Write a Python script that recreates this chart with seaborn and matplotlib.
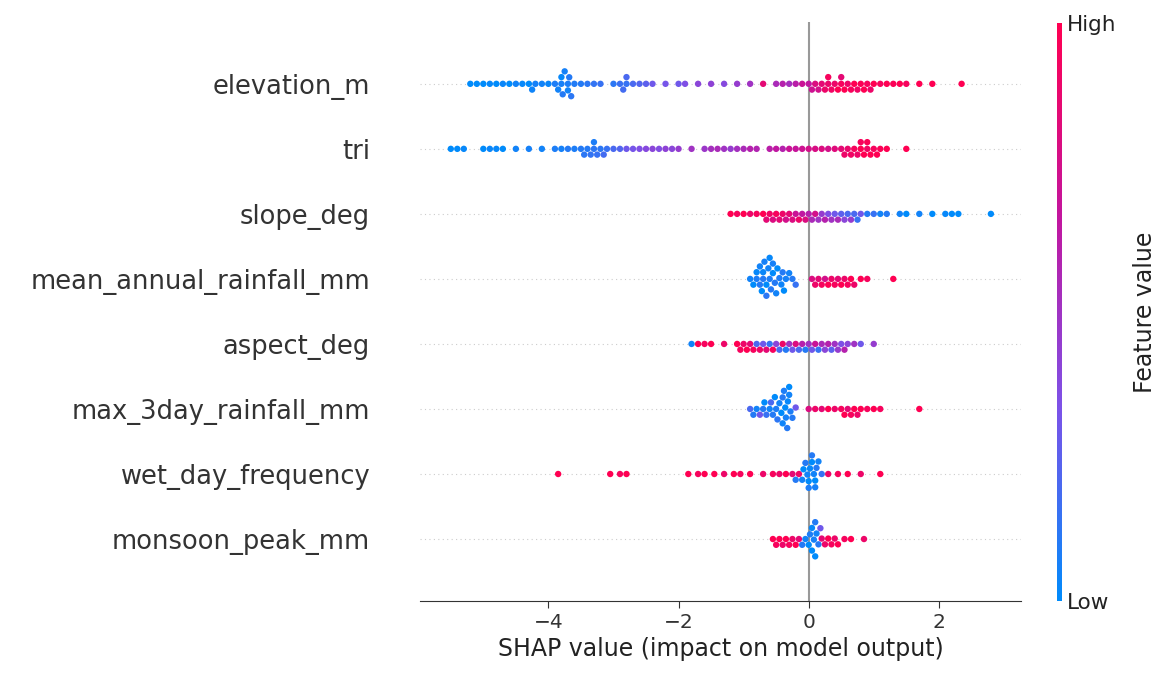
import matplotlib
matplotlib.use("Agg")
import matplotlib.pyplot as plt
from matplotlib.colors import LinearSegmentedColormap
from matplotlib.cm import ScalarMappable
import seaborn as sns
import pandas as pd

features = ["elevation_m", "tri", "slope_deg", "mean_annual_rainfall_mm",
            "aspect_deg", "max_3day_rainfall_mm", "wet_day_frequency", "monsoon_peak_mm"]

# SHAP values and feature values (0 = low, 1 = high)
elev_shap = [-5.2, -5.1, -5.0, -4.9, -4.8, -4.7, -4.6, -4.5, -4.4, -4.3, -4.25, -4.2, -4.1, -4.0, -3.9,
             -3.85, -3.8, -3.8, -3.78, -3.75, -3.7, -3.7, -3.68, -3.65, -3.6, -3.5, -3.4, -3.3, -3.2, -3.0,
             -2.9, -2.85, -2.8, -2.8, -2.7, -2.6, -2.5, -2.4, -2.2, -2.0, -1.9, -1.7, -1.5, -1.3, -1.1, -0.9,
             -0.7, -0.5, -0.4, -0.3, -0.2, -0.1, 0.0, 0.05, 0.1, 0.15, 0.2, 0.25, 0.3, 0.3, 0.35, 0.4, 0.45,
             0.5, 0.5, 0.55, 0.6, 0.65, 0.7, 0.75, 0.8, 0.85, 0.9, 0.95, 1.0, 1.1, 1.2, 1.3, 1.4, 1.5, 1.7,
             1.9, 2.35]
elev_val = [0.0, 0.0, 0.0, 0.02, 0.0, 0.03, 0.0, 0.05, 0.02, 0.0, 0.04, 0.06, 0.05, 0.03, 0.08,
            0.05, 0.07, 0.02, 0.1, 0.06, 0.08, 0.05, 0.1, 0.12, 0.09, 0.1, 0.12, 0.14, 0.15, 0.12,
            0.16, 0.18, 0.15, 0.2, 0.2, 0.22, 0.25, 0.3, 0.32, 0.3, 0.35, 0.4, 0.42, 0.38, 0.45, 0.5,
            0.85, 0.55, 0.6, 0.52, 0.62, 0.7, 0.65, 0.72, 0.8, 0.75, 0.85, 0.9, 0.88, 0.95, 0.92, 0.9, 1.0,
            0.95, 0.85, 1.0, 0.9, 0.95, 1.0, 0.92, 0.98, 1.0, 0.95, 0.9, 1.0, 0.95, 1.0, 0.98, 1.0, 0.95, 1.0,
            1.0, 1.0]

tri_shap = [-5.5, -5.4, -5.3, -5.0, -4.9, -4.8, -4.7, -4.5, -4.3, -4.1, -3.9, -3.8, -3.7, -3.6, -3.5,
            -3.45, -3.4, -3.35, -3.3, -3.3, -3.25, -3.2, -3.15, -3.1, -3.0, -2.9, -2.8, -2.7, -2.6, -2.5,
            -2.4, -2.3, -2.2, -2.1, -2.0, -1.8, -1.6, -1.5, -1.4, -1.3, -1.2, -1.1, -1.0, -0.9, -0.8, -0.6,
            -0.5, -0.4, -0.3, -0.2, -0.1, 0.0, 0.1, 0.2, 0.3, 0.4, 0.5, 0.55, 0.6, 0.65, 0.7, 0.75, 0.8,
            0.8, 0.85, 0.9, 0.9, 0.95, 1.0, 1.05, 1.1, 1.2, 1.5]
tri_val = [0.0, 0.0, 0.02, 0.0, 0.03, 0.02, 0.0, 0.05, 0.06, 0.05, 0.08, 0.06, 0.1, 0.08, 0.1,
           0.12, 0.1, 0.14, 0.12, 0.08, 0.15, 0.12, 0.18, 0.15, 0.2, 0.22, 0.3, 0.32, 0.35, 0.38,
           0.4, 0.36, 0.42, 0.4, 0.45, 0.5, 0.48, 0.52, 0.55, 0.5, 0.45, 0.52, 0.55, 0.6, 0.58, 0.62,
           0.65, 0.6, 0.7, 0.68, 0.72, 0.75, 0.78, 0.8, 0.75, 0.82, 0.85, 0.9, 0.88, 0.92, 0.95, 0.9, 1.0,
           0.95, 1.0, 0.92, 0.98, 1.0, 0.95, 1.0, 0.98, 1.0, 1.0]

slope_shap = [-1.2, -1.1, -1.0, -0.9, -0.8, -0.7, -0.65, -0.6, -0.55, -0.5, -0.45, -0.4, -0.35, -0.3,
              -0.25, -0.2, -0.15, -0.1, -0.05, 0.0, 0.05, 0.1, 0.15, 0.2, 0.25, 0.3, 0.35, 0.4, 0.45, 0.5,
              0.55, 0.6, 0.65, 0.7, 0.75, 0.8, 0.9, 1.0, 1.1, 1.2, 1.4, 1.5, 1.7, 1.9, 2.1, 2.2, 2.3, 2.8]
slope_val = [1.0, 0.95, 1.0, 0.9, 0.95, 1.0, 0.85, 0.92, 0.8, 0.95, 0.85, 0.9, 0.75, 0.85,
             0.8, 0.7, 0.9, 0.65, 0.8, 0.6, 0.55, 0.75, 0.5, 0.45, 0.6, 0.35, 0.5, 0.3, 0.55, 0.25,
             0.4, 0.2, 0.45, 0.2, 0.15, 0.3, 0.1, 0.15, 0.05, 0.1, 0.05, 0.0, 0.05, 0.0, 0.02, 0.0, 0.0, 0.0]

rain_shap = [-0.9, -0.85, -0.8, -0.8, -0.75, -0.75, -0.72, -0.7, -0.7, -0.68, -0.65, -0.65, -0.62, -0.6,
             -0.6, -0.58, -0.55, -0.55, -0.52, -0.5, -0.48, -0.45, -0.42, -0.4, -0.38, -0.35, -0.3, -0.25,
             -0.2, 0.05, 0.1, 0.15, 0.2, 0.25, 0.3, 0.35, 0.4, 0.45, 0.5, 0.55, 0.6, 0.65, 0.7, 0.8, 0.9, 1.3]
rain_val = [0.05, 0.0, 0.08, 0.02, 0.1, 0.05, 0.0, 0.1, 0.03, 0.06, 0.0, 0.12, 0.05, 0.08,
            0.02, 0.1, 0.0, 0.06, 0.1, 0.05, 0.0, 0.08, 0.04, 0.1, 0.0, 0.06, 0.05, 0.1,
            0.15, 0.8, 0.9, 0.85, 0.95, 0.75, 1.0, 0.9, 0.95, 0.85, 1.0, 0.9, 0.95, 1.0, 0.9, 1.0, 0.95, 1.0]

aspect_shap = [-1.8, -1.7, -1.6, -1.5, -1.3, -1.1, -1.05, -1.0, -0.95, -0.9, -0.85, -0.8, -0.75, -0.7,
               -0.65, -0.6, -0.55, -0.5, -0.45, -0.4, -0.35, -0.3, -0.25, -0.2, -0.15, -0.1, -0.05, 0.0,
               0.05, 0.1, 0.15, 0.2, 0.25, 0.3, 0.35, 0.4, 0.45, 0.5, 0.55, 0.6, 0.7, 0.8, 1.0]
aspect_val = [0.05, 1.0, 0.95, 1.0, 0.9, 1.0, 0.95, 0.9, 1.0, 0.85, 0.95, 0.2, 0.9, 0.3,
              0.85, 0.15, 0.95, 0.4, 0.2, 0.9, 0.1, 0.5, 0.3, 0.8, 0.2, 0.6, 0.1, 0.5,
              0.3, 0.7, 0.15, 0.55, 0.4, 0.6, 0.25, 0.5, 0.45, 0.35, 0.6, 0.4, 0.5, 0.3, 0.45]

max3_shap = [-0.9, -0.85, -0.8, -0.75, -0.7, -0.68, -0.65, -0.6, -0.58, -0.55, -0.52, -0.5, -0.48, -0.45,
             -0.42, -0.4, -0.4, -0.38, -0.36, -0.35, -0.33, -0.32, -0.3, -0.3, -0.28, -0.25, -0.2, 0.0,
             0.1, 0.2, 0.3, 0.4, 0.5, 0.55, 0.6, 0.65, 0.7, 0.75, 0.8, 0.9, 1.0, 1.1, 1.7]
max3_val = [0.2, 0.1, 0.05, 0.3, 0.1, 0.0, 0.15, 0.05, 0.2, 0.1, 0.0, 0.08, 0.12, 0.05,
            0.0, 0.1, 0.04, 0.08, 0.0, 0.06, 0.1, 0.02, 0.05, 0.0, 0.08, 0.1, 0.3, 0.8,
            0.9, 0.85, 1.0, 0.9, 0.95, 1.0, 0.85, 0.95, 1.0, 0.9, 1.0, 0.95, 1.0, 0.95, 1.0]

wet_shap = [-3.85, -3.05, -2.9, -2.8, -1.85, -1.7, -1.6, -1.45, -1.3, -1.15, -1.05, -0.9, -0.7, -0.55,
            -0.45, -0.35, -0.25, -0.2, -0.15, -0.1, -0.08, -0.05, -0.02, 0.0, 0.0, 0.02, 0.05, 0.05, 0.08,
            0.1, 0.1, 0.12, 0.15, 0.2, 0.3, 0.45, 0.6, 0.8, 1.1]
wet_val = [1.0, 1.0, 0.95, 1.0, 1.0, 0.95, 1.0, 1.0, 0.9, 1.0, 0.95, 1.0, 0.9, 0.95,
           0.9, 1.0, 0.85, 0.1, 0.9, 0.05, 0.0, 0.1, 0.05, 0.0, 0.08, 0.02, 0.0, 0.1, 0.05,
           0.0, 0.06, 0.1, 0.05, 0.15, 0.9, 0.95, 1.0, 0.9, 1.0]

mons_shap = [-0.55, -0.5, -0.45, -0.4, -0.35, -0.3, -0.25, -0.2, -0.15, -0.1, -0.05, 0.0, 0.02, 0.05,
             0.05, 0.08, 0.1, 0.1, 0.12, 0.15, 0.18, 0.2, 0.25, 0.3, 0.35, 0.4, 0.45, 0.55, 0.65, 0.85]
mons_val = [1.0, 0.95, 1.0, 0.9, 1.0, 0.95, 0.9, 1.0, 0.85, 0.1, 0.05, 0.0, 0.08, 0.02,
            0.0, 0.06, 0.1, 0.0, 0.05, 0.1, 0.3, 0.85, 0.9, 1.0, 0.95, 0.9, 1.0, 0.95, 1.0, 0.9]

shap_lists = [elev_shap, tri_shap, slope_shap, rain_shap, aspect_shap, max3_shap, wet_shap, mons_shap]
val_lists = [elev_val, tri_val, slope_val, rain_val, aspect_val, max3_val, wet_val, mons_val]

rows = []
for f, s, v in zip(features, shap_lists, val_lists):
    for a, b in zip(s, v):
        rows.append({"feature": f, "shap": a, "value": b})
df = pd.DataFrame(rows)

cmap = LinearSegmentedColormap.from_list("shap_rb", ["#008bfb", "#7c52e8", "#c3159e", "#ff0052"])

sns.set_style("white")
fig = plt.figure(figsize=(11.64, 6.89), dpi=100)
ax = fig.add_axes([0.361, 0.128, 0.516, 0.84])

for i in range(len(features)):
    ax.axhline(i, color="#cccccc", lw=0.8, ls=(0, (1, 3)), zorder=0)
ax.axvline(0, color="#999999", lw=1.5, zorder=1)

sns.swarmplot(data=df, x="shap", y="feature", hue="value", palette=cmap, hue_norm=(0, 1),
              order=features, orient="h", size=4.6, legend=False, ax=ax, zorder=3, linewidth=0)

ax.set_xlim(-5.97, 3.26)
ax.set_ylim(7.95, -0.95)
ax.set_ylabel("")
ax.set_xlabel("SHAP value (impact on model output)", fontsize=17, color="#222222")
ax.set_xticks([-4, -2, 0, 2])
ax.set_xticklabels(["\u22124", "\u22122", "0", "2"])
ax.tick_params(axis="x", labelsize=14.5, colors="#333333", length=5, direction="out", bottom=True)
ax.tick_params(axis="y", labelsize=18.5, colors="#333333", length=0, pad=36)
for side in ["top", "right", "left"]:
    ax.spines[side].set_visible(False)
ax.spines["bottom"].set_color("#333333")

cax = fig.add_axes([0.908, 0.128, 0.004, 0.838])
sm = ScalarMappable(cmap=cmap)
sm.set_array([0, 1])
cb = fig.colorbar(sm, cax=cax, ticks=[0, 1])
cb.set_ticklabels(["Low", "High"])
cb.outline.set_visible(False)
cb.ax.tick_params(labelsize=15.5, length=0, colors="#222222")
cb.set_label("Feature value", fontsize=17, labelpad=12, color="#222222")

fig.savefig("out.png", dpi=100)
